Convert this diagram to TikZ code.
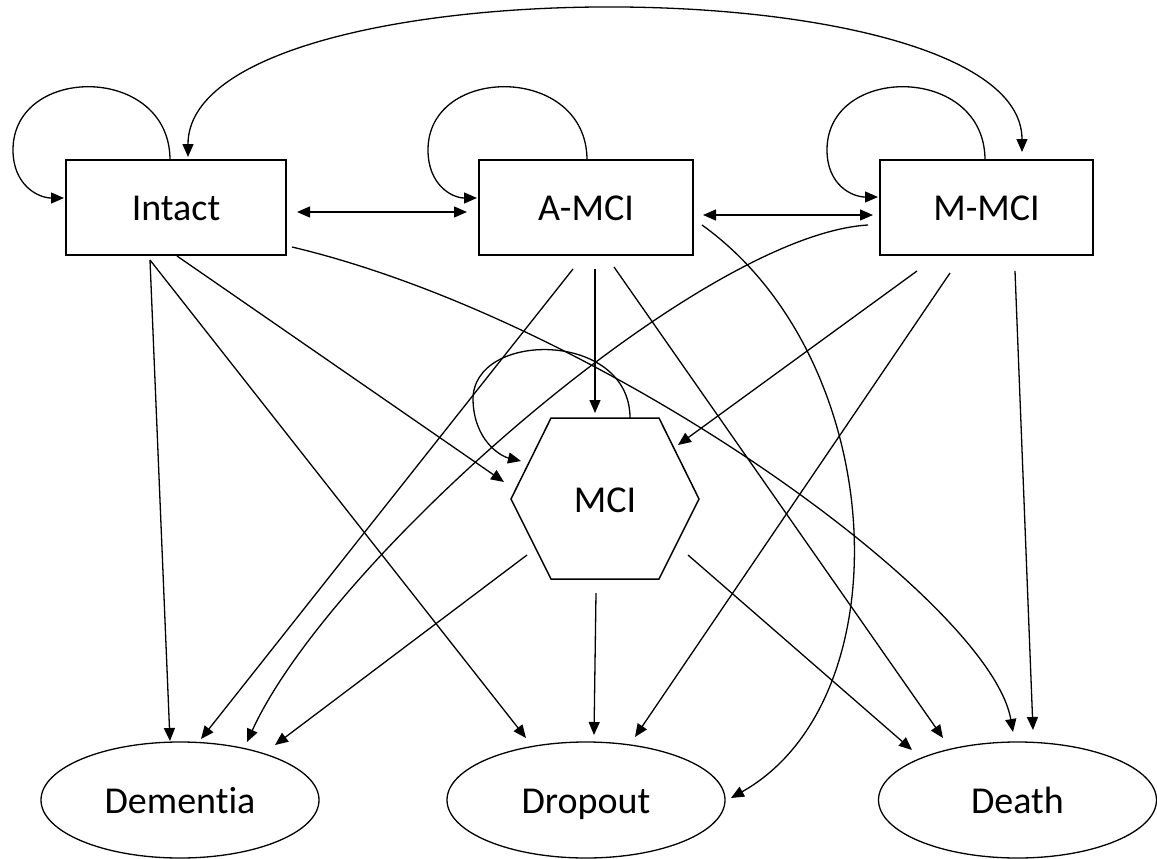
\documentclass[tikz,border=0pt]{standalone}
\usepackage{fontspec}
\setmainfont{Carlito}[Ligatures=NoCommon]
\usetikzlibrary{shapes.geometric,arrows.meta,calc}
\tikzset{
  txt/.style={font=\fontsize{38}{44}\selectfont, text height=26pt, text depth=0pt},
  box/.style={draw, line width=1.5pt, minimum height=95pt, inner sep=0pt, txt},
  oval/.style={draw, ellipse, line width=1.3pt, minimum width=278pt, minimum height=116pt, inner sep=0pt, txt},
  lbl/.style={inner sep=0pt, txt},
  arr/.style={line width=1.3pt, -{Triangle[length=13pt,width=11pt]}},
  darr/.style={line width=1.3pt, {Triangle[length=13pt,width=11pt]}-{Triangle[length=13pt,width=11pt]}}
}
\begin{document}
\begin{tikzpicture}[x=1pt,y=-1pt]
\useasboundingbox (0,0) rectangle (1157,859);
% nodes
\node[box, minimum width=220pt] (intact) at (176,207.5) {Intact};
\node[box, minimum width=214pt] (amci) at (586,207.5) {A-MCI};
\node[box, minimum width=213pt] (mmci) at (986.5,207.5) {M-MCI};
\node[lbl] (mci) at (605,499) {MCI};
\draw[line width=1.5pt] ($(mci)+(-54,-81)$) -- ($(mci)+(54,-81)$) -- ($(mci)+(94,0)$) -- ($(mci)+(54,80)$) -- ($(mci)+(-54,80)$) -- ($(mci)+(-94,0)$) -- cycle;
\node[oval] (dementia) at (180,800) {Dementia};
\node[oval] (dropout) at (586,800) {Dropout};
\node[oval] (death) at (1017.5,800) {Death};

% self loops
\draw[arr] ($(intact)+(-6,-47.5)$) .. controls (170,64) and (13,64) .. (13,150) .. controls (13,185) and (38,198) .. ($(intact)+(-112,-9.5)$);
\draw[arr] ($(amci)+(1,-47.5)$) .. controls (587,64) and (428,64) .. (428,150) .. controls (428,185) and (452,198) .. ($(amci)+(-109,-9.5)$);
\draw[arr] ($(mmci)+(-1.5,-47.5)$) .. controls (985,64) and (827,64) .. (827,150) .. controls (827,185) and (852,197) .. ($(mmci)+(-108.5,-10.5)$);
\draw[arr] ($(mci)+(25,-81)$) .. controls (630,330) and (472,330) .. (473,400) .. controls (474,440) and (500,456) .. ($(mci)+(-84,-38)$);

% big arc Intact <-> M-MCI
\draw[darr] ($(intact)+(12,-50.5)$) .. controls (188,-38) and (1022,-38) .. ($(mmci)+(35.5,-55.5)$);

% horizontal double arrows
\draw[darr] ($(intact)+(121,4.5)$) -- ($(amci)+(-119,4.5)$);
\draw[darr] ($(amci)+(117,7.5)$) -- ($(mmci)+(-113.5,7.5)$);

% curved connectors
\draw[arr] ($(intact)+(116,39.5)$) .. controls (600,320) and (990,600) .. ($(death)+(-4.5,-68)$);
\draw[arr] ($(amci)+(116,17.5)$) .. controls (890,360) and (905,700) .. ($(dropout)+(145,-2)$);
\draw[arr] ($(mmci)+(-118.5,17.5)$) .. controls (700,235) and (330,560) .. ($(dementia)+(67,-58)$);

% straight connectors from Intact
\draw[arr] ($(intact)+(-26,52.5)$) -- ($(dementia)+(-10,-59)$);
\draw[arr] ($(intact)+(-26,52.5)$) -- ($(dropout)+(-60,-62)$);
\draw[arr] ($(intact)+(1,48.5)$) -- ($(mci)+(-101,-17)$);

% from A-MCI
\draw[arr] ($(amci)+(-13,61.5)$) -- ($(dementia)+(21,-61)$);
\draw[arr] ($(amci)+(9,61.5)$) -- ($(mci)+(-10,-86)$);
\draw[arr] ($(amci)+(28,59.5)$) -- ($(death)+(-74.5,-62)$);

% from M-MCI
\draw[arr] ($(mmci)+(-69.5,63.5)$) -- ($(mci)+(73,-54)$);
\draw[arr] ($(mmci)+(-36.5,65.5)$) -- ($(dropout)+(49,-63)$);
\draw[arr] ($(mmci)+(28.5,63.5)$) -- ($(death)+(15.5,-70)$);

% from MCI
\draw[arr] ($(mci)+(-78,56)$) -- ($(dementia)+(95,-55)$);
\draw[arr] ($(mci)+(-9,94)$) -- ($(dropout)+(8,-65)$);
\draw[arr] ($(mci)+(83,56)$) -- ($(death)+(-105.5,-50)$);
\end{tikzpicture}
\end{document}
